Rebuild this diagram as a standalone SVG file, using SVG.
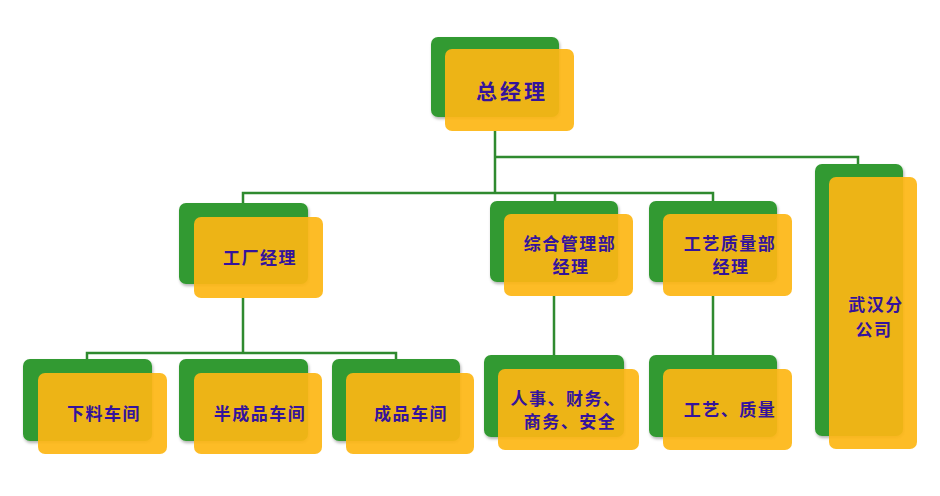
<svg xmlns="http://www.w3.org/2000/svg" width="940" height="496" viewBox="0 0 940 496">
<style>
.g{fill:#339a32;filter:url(#sh)}
.y{fill:#fdb614;fill-opacity:0.92}
.t{font-family:"Noto Sans CJK SC","Noto Sans",sans-serif;font-weight:bold;font-size:17px;fill:#34139c;text-anchor:middle;letter-spacing:1.5px}
.c{fill:none;stroke:#2f8a2f;stroke-width:2.5}
</style>
<defs>
<filter id="sh" x="-10%" y="-10%" width="125%" height="125%">
<feDropShadow dx="1" dy="2" stdDeviation="1.5" flood-color="#000" flood-opacity="0.3"/>
</filter>
</defs>
<rect width="940" height="496" fill="#fff"/>
<g id="connectors">
<path class="c" d="M495,131V193M495,157H858V165M243,203V193H713V203M555,193V201"/>
<path class="c" d="M243,298V353M87,359V353H396V359"/>
<path class="c" d="M554,296V355M713,296V355"/>
</g>
<g id="n-gm">
<rect class="g" x="431" y="37" width="128" height="80" rx="7"/>
<rect class="y" x="445" y="49" width="129" height="82" rx="7"/>
<text class="t" x="512" y="99" style="font-size:21px;letter-spacing:3px">总经理</text>
</g>
<g id="n-factory">
<rect class="g" x="179" y="203" width="129" height="81" rx="7"/>
<rect class="y" x="194" y="217" width="129" height="81" rx="7"/>
<text class="t" x="260" y="264">工厂经理</text>
</g>
<g id="n-admin">
<rect class="g" x="490" y="201" width="128" height="81" rx="7"/>
<rect class="y" x="504" y="214" width="129" height="82" rx="7"/>
<text class="t" x="570" y="250">综合管理部</text>
<text class="t" x="571" y="273">经理</text>
</g>
<g id="n-quality">
<rect class="g" x="649" y="201" width="128" height="81" rx="7"/>
<rect class="y" x="663" y="214" width="129" height="82" rx="7"/>
<text class="t" x="730" y="250">工艺质量部</text>
<text class="t" x="731" y="273">经理</text>
</g>
<g id="n-wuhan">
<rect class="g" x="815" y="164" width="88" height="272" rx="7"/>
<rect class="y" x="829" y="177" width="88" height="272" rx="7"/>
<text class="t" x="876" y="311">武汉分</text>
<text class="t" x="874" y="336">公司</text>
</g>
<g id="n-blanking">
<rect class="g" x="23" y="359" width="129" height="82" rx="7"/>
<rect class="y" x="38" y="373" width="129" height="81" rx="7"/>
<text class="t" x="104" y="420">下料车间</text>
</g>
<g id="n-semi">
<rect class="g" x="179" y="359" width="129" height="82" rx="7"/>
<rect class="y" x="194" y="373" width="128" height="81" rx="7"/>
<text class="t" x="260" y="420">半成品车间</text>
</g>
<g id="n-finished">
<rect class="g" x="332" y="359" width="128" height="82" rx="7"/>
<rect class="y" x="346" y="373" width="128" height="81" rx="7"/>
<text class="t" x="411" y="420">成品车间</text>
</g>
<g id="n-hr">
<rect class="g" x="484" y="355" width="140" height="82" rx="7"/>
<rect class="y" x="498" y="369" width="141" height="81" rx="7"/>
<text class="t" x="566" y="405">人事、财务、</text>
<text class="t" x="570" y="428">商务、安全</text>
</g>
<g id="n-proc">
<rect class="g" x="649" y="355" width="128" height="82" rx="7"/>
<rect class="y" x="663" y="369" width="129" height="81" rx="7"/>
<text class="t" x="730" y="416">工艺、质量</text>
</g>
</svg>
